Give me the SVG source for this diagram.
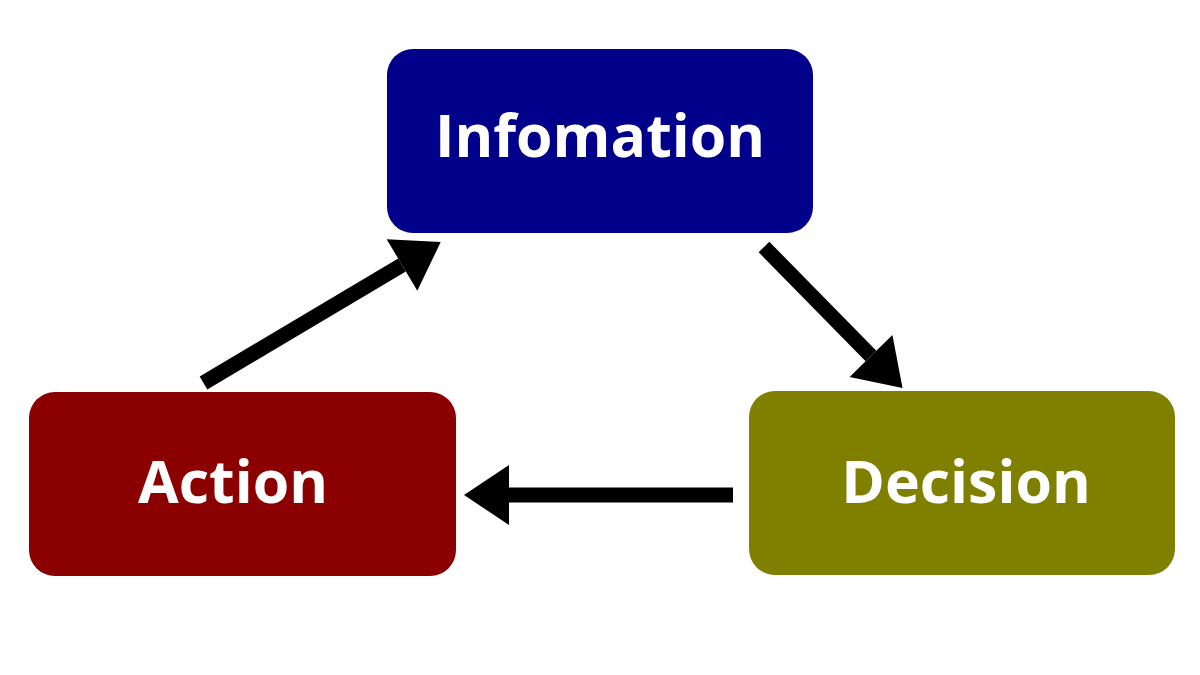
<svg xmlns="http://www.w3.org/2000/svg" width="1200" height="675" viewBox="0 0 1200 675">
<style>
.lbl{font-family:"Open Sans","Noto Sans","DejaVu Sans",sans-serif;font-weight:bold;font-size:59px;fill:#ffffff;text-anchor:middle}
.conn{stroke:#000;stroke-width:15;fill:none;marker-end:url(#ah)}
</style>
<defs>
<marker id="ah" markerUnits="userSpaceOnUse" markerWidth="46" markerHeight="60" refX="0" refY="30" orient="auto" overflow="visible">
<path d="M0,0 L45,30 L0,60 Z" fill="#000"/>
</marker>
</defs>
<rect width="1200" height="675" fill="#fff"/>
<g id="connectors">
<line class="conn" x1="203.5" y1="383" x2="402" y2="265"/>
<line class="conn" x1="764" y1="247" x2="871" y2="356"/>
<line class="conn" x1="733" y1="495" x2="509" y2="495"/>
</g>
<g id="infomation">
<rect x="387" y="49" width="426" height="184" rx="26" fill="#00008B"/>
<text class="lbl" x="600" y="157">Infomation</text>
</g>
<g id="action">
<rect x="29" y="392" width="427" height="184" rx="26" fill="#8B0000"/>
<text class="lbl" x="233" y="503">Action</text>
</g>
<g id="decision">
<rect x="749" y="391" width="426" height="184" rx="26" fill="#808000"/>
<text class="lbl" x="966" y="503">Decision</text>
</g>
</svg>
